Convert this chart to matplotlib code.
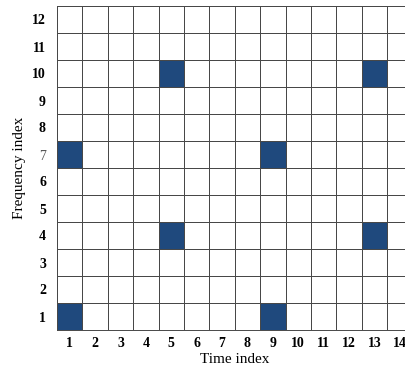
import numpy as np
import matplotlib
matplotlib.use('Agg')
import matplotlib.pyplot as plt
from matplotlib.colors import ListedColormap

# celdas ocupadas (tiempo, frecuencia)
time_idx = [1, 1, 5, 5, 9, 9, 13, 13]
freq_idx = [1, 7, 4, 10, 1, 7, 4, 10]
n_time = 14
n_freq = 12
x_labels = [str(i) for i in range(1, n_time + 1)]
y_labels = [str(i) for i in range(1, n_freq + 1)]

grid = np.zeros((n_freq, n_time))
for t, f in zip(time_idx, freq_idx):
    grid[f - 1, t - 1] = 1

plt.rcParams['font.family'] = ['Liberation Serif', 'DejaVu Serif']

fig = plt.figure(figsize=(4.05, 3.65), dpi=100)
W, H = 405, 365
ax = fig.add_axes([57 / W, 35 / H, 14 * 25.4 / W, 324 / H])

cmap = ListedColormap(['white', '#1f497d'])
ax.pcolormesh(np.arange(0.5, n_time + 1), np.arange(0.5, n_freq + 1), grid,
              cmap=cmap, vmin=0, vmax=1, edgecolors='#484848', linewidth=0.7)
ax.set_xlim(0.5, n_time + 0.5)
ax.set_ylim(0.5, n_freq + 0.5)

ax.set_xticks(range(1, n_time + 1))
ax.set_xticklabels(x_labels, fontweight='bold', fontsize=10)
ax.set_yticks(range(1, n_freq + 1))
ax.set_yticklabels(y_labels, fontweight='bold', fontsize=10)
ax.get_yticklabels()[6].set_fontweight('normal')
ax.get_yticklabels()[6].set_color('#555555')
ax.tick_params(length=0, pad=5)
ax.tick_params(axis='y', pad=8)
for s in ax.spines.values():
    s.set_color('#484848')
    s.set_linewidth(0.7)

ax.set_xlabel('Time index', fontsize=11, labelpad=2)
ax.set_ylabel('Frequency index', fontsize=11, labelpad=4)

fig.savefig('out.png', dpi=100)
